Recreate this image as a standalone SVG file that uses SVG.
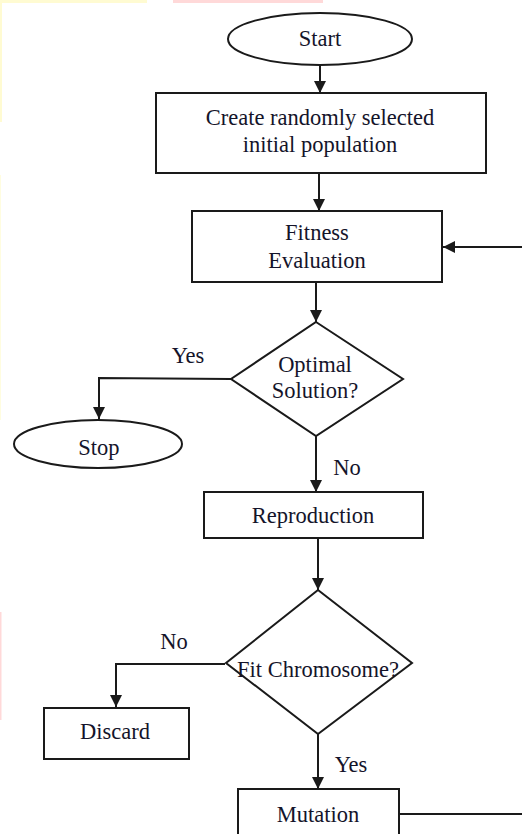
<svg xmlns="http://www.w3.org/2000/svg" width="522" height="834" viewBox="0 0 522 834">
<style>
.shape{fill:#fff;stroke:#1a1a1a;stroke-width:2}
.ln{fill:none;stroke:#1a1a1a;stroke-width:2}
.t{font-family:'Liberation Serif','DejaVu Serif',serif;font-size:22.5px;fill:#14142a;text-anchor:middle}
</style>
<defs>
<marker id="ah" markerUnits="userSpaceOnUse" markerWidth="12" markerHeight="12" viewBox="0 0 12 12" refX="12" refY="6" orient="auto">
<path d="M0,0 L12,6 L0,12 Z" fill="#1a1a1a"/>
</marker>
</defs>
<rect width="522" height="834" fill="#fff"/>
<rect x="0" y="0" width="147" height="3" fill="#fffbd2"/>
<rect x="173" y="0" width="150" height="3" fill="#ffd9d9"/>
<rect x="0" y="0" width="2" height="122" fill="#fffbd2"/>
<rect x="0" y="175" width="1" height="245" fill="#fffde0"/>
<rect x="0" y="612" width="1.5" height="108" fill="#ffd9d9"/>
<g id="connectors">
<line class="ln" x1="320" y1="65" x2="320" y2="93" marker-end="url(#ah)"/>
<line class="ln" x1="319" y1="173" x2="319" y2="211" marker-end="url(#ah)"/>
<line class="ln" x1="522" y1="247" x2="443" y2="247" marker-end="url(#ah)"/>
<line class="ln" x1="316" y1="282" x2="316" y2="322" marker-end="url(#ah)"/>
<polyline class="ln" points="231,379 99,378 99,419" marker-end="url(#ah)"/>
<line class="ln" x1="316" y1="436" x2="316" y2="492" marker-end="url(#ah)"/>
<line class="ln" x1="318" y1="538" x2="318" y2="590" marker-end="url(#ah)"/>
<polyline class="ln" points="225,664 116,664 116,707" marker-end="url(#ah)"/>
<line class="ln" x1="318" y1="734" x2="318" y2="789" marker-end="url(#ah)"/>
<line class="ln" x1="399" y1="814" x2="522" y2="814"/>
</g>
<g id="start">
<ellipse class="shape" cx="320" cy="39" rx="92" ry="26"/>
<text class="t" font-family="Liberation Serif" x="320" y="46">Start</text>
</g>
<g id="create">
<rect class="shape" x="156" y="93" width="330" height="80"/>
<text class="t" font-family="Liberation Serif" x="320" y="125">Create randomly selected</text>
<text class="t" font-family="Liberation Serif" x="320" y="152">initial population</text>
</g>
<g id="fitness">
<rect class="shape" x="192" y="211" width="250" height="71"/>
<text class="t" font-family="Liberation Serif" x="317" y="240">Fitness</text>
<text class="t" font-family="Liberation Serif" x="317" y="268">Evaluation</text>
</g>
<g id="optimal">
<polygon class="shape" points="316,322 403,379 316,436 231,379"/>
<text class="t" font-family="Liberation Serif" x="315" y="372">Optimal</text>
<text class="t" font-family="Liberation Serif" x="315" y="398">Solution?</text>
</g>
<g id="stop">
<ellipse class="shape" cx="98" cy="444" rx="84" ry="24"/>
<text class="t" font-family="Liberation Serif" x="99" y="455">Stop</text>
</g>
<g id="reproduction">
<rect class="shape" x="204" y="492" width="219" height="46"/>
<text class="t" font-family="Liberation Serif" x="313" y="523">Reproduction</text>
</g>
<g id="fit">
<polygon class="shape" points="318,590 412,663 318,734 226,663"/>
<text class="t" font-family="Liberation Serif" x="318" y="677">Fit Chromosome?</text>
</g>
<g id="discard">
<rect class="shape" x="44" y="708" width="145" height="51"/>
<text class="t" font-family="Liberation Serif" x="115" y="739">Discard</text>
</g>
<g id="mutation">
<rect class="shape" x="238" y="789" width="161" height="50"/>
<text class="t" font-family="Liberation Serif" x="318" y="822">Mutation</text>
</g>
<g id="labels">
<text class="t" font-family="Liberation Serif" x="188" y="363">Yes</text>
<text class="t" font-family="Liberation Serif" x="347" y="475">No</text>
<text class="t" font-family="Liberation Serif" x="174" y="649">No</text>
<text class="t" font-family="Liberation Serif" x="351" y="772">Yes</text>
</g>
</svg>
